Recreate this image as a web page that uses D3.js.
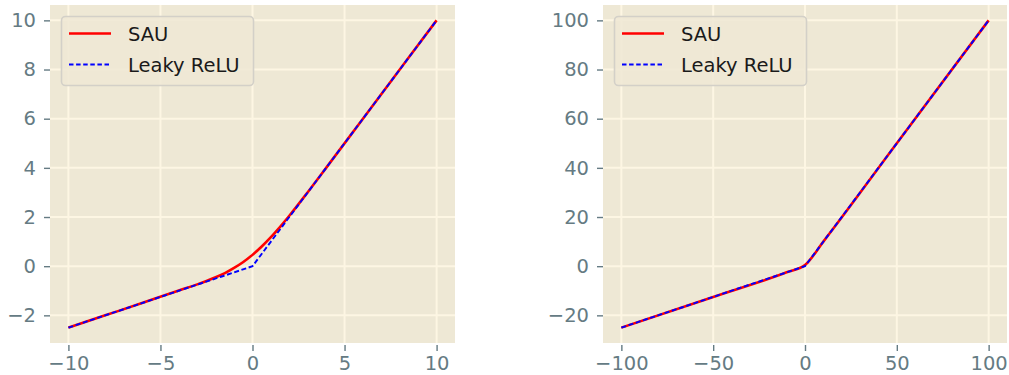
<!DOCTYPE html>
<html>
<head>
<meta charset="utf-8">
<script src="https://cdn.jsdelivr.net/npm/d3@7"></script>
<style>
  html, body { margin: 0; padding: 0; background: #ffffff; }
  svg { display: block; font-family: "DejaVu Sans", sans-serif; }
</style>
</head>
<body>
<svg id="chart" width="1009" height="375"></svg>
<script>
// Leaky ReLU (slope 0.25) sampled on 13 points, small range
const leakyXSmall = [-10, -8.33, -6.67, -5, -3.33, -1.67, 0, 1.67, 3.33, 5, 6.67, 8.33, 10];
const leakyYSmall = [-2.5, -2.08, -1.67, -1.25, -0.83, -0.42, 0, 1.67, 3.33, 5, 6.67, 8.33, 10];
// SAU, small range
const sauXSmall = [-10, -8, -6, -4, -3, -2.5, -2, -1.5, -1, -0.5, 0, 0.5, 1, 1.5, 2, 3, 4, 6, 8, 10];
const sauYSmall = [-2.5, -2.0, -1.5, -0.99, -0.74, -0.6, -0.45, -0.28, -0.07, 0.17, 0.46, 0.8, 1.18, 1.6, 2.05, 3.01, 4, 6, 8, 10];
// Leaky ReLU, large range
const leakyXLarge = [-100, -83.3, -66.7, -50, -33.3, -16.7, 0, 16.7, 33.3, 50, 66.7, 83.3, 100];
const leakyYLarge = [-25, -20.8, -16.7, -12.5, -8.3, -4.2, 0, 16.7, 33.3, 50, 66.7, 83.3, 100];
// SAU, large range
const sauXLarge = [-100, -50, -10, 0, 10, 50, 100];
const sauYLarge = [-25, -12.5, -2.5, 0.46, 10, 50, 100];

const xTicksSmall = [-10, -5, 0, 5, 10];
const yTicksSmall = [-2, 0, 2, 4, 6, 8, 10];
const xTicksLarge = [-100, -50, 0, 50, 100];
const yTicksLarge = [-20, 0, 20, 40, 60, 80, 100];

const seriesNames = ["SAU", "Leaky ReLU"];

const svg = d3.select("#chart");
const tickColor = "#657b83";
const fontSize = 19.5;

function panel(id, left, right, xDomain, yDomain, xTicks, yTicks, sauX, sauY, lx, ly) {
  const top = 5, bottom = 343;
  const x = d3.scaleLinear().domain(xDomain).range([left, right]);
  const y = d3.scaleLinear().domain(yDomain).range([bottom, top]);
  const g = svg.append("g");

  g.append("rect").attr("x", left).attr("y", top)
    .attr("width", right - left).attr("height", bottom - top)
    .attr("fill", "#eee8d5");

  svg.append("clipPath").attr("id", id).append("rect")
    .attr("x", left).attr("y", top).attr("width", right - left).attr("height", bottom - top);

  // grid
  const grid = g.append("g").attr("stroke", "#fdf6e3").attr("stroke-width", 2);
  xTicks.forEach(t => grid.append("line")
    .attr("x1", x(t)).attr("x2", x(t)).attr("y1", top).attr("y2", bottom));
  yTicks.forEach(t => grid.append("line")
    .attr("x1", left).attr("x2", right).attr("y1", y(t)).attr("y2", y(t)));

  // axes
  const xAxis = d3.axisBottom(x).tickValues(xTicks).tickSize(6).tickPadding(5)
    .tickFormat(d => String(d).replace("-", "\u2212"));
  const yAxis = d3.axisLeft(y).tickValues(yTicks).tickSize(6).tickPadding(8)
    .tickFormat(d => String(d).replace("-", "\u2212"));
  const gx = g.append("g").attr("transform", `translate(0,${bottom + 2})`).call(xAxis);
  const gy = g.append("g").attr("transform", `translate(${left},0)`).call(yAxis);
  [gx, gy].forEach(a => {
    a.select(".domain").remove();
    a.selectAll(".tick line").attr("stroke", tickColor).attr("stroke-width", 1.4);
    a.selectAll(".tick text").attr("fill", tickColor)
      .attr("font-size", fontSize).attr("font-family", "DejaVu Sans");
  });

  // curves
  const plot = g.append("g").attr("clip-path", `url(#${id})`);
  const line = d3.line().x(d => x(d[0])).y(d => y(d[1]));
  plot.append("path")
    .datum(d3.zip(sauX, sauY))
    .attr("d", line.curve(d3.curveMonotoneX))
    .attr("fill", "none").attr("stroke", "#ff0000").attr("stroke-width", 2.6);
  plot.append("path")
    .datum(d3.zip(lx, ly))
    .attr("d", d3.line().x(d => x(d[0])).y(d => y(d[1])))
    .attr("fill", "none").attr("stroke", "#0000ff").attr("stroke-width", 1.9)
    .attr("stroke-dasharray", "5,2.6");

  // legend
  const lgx = left + 11, lgy = 16;
  const lg = g.append("g").attr("transform", `translate(${lgx},${lgy})`);
  lg.append("rect").attr("x", 0.5).attr("y", 0.5).attr("width", 192).attr("height", 69)
    .attr("rx", 4).attr("fill", "#eee8d5").attr("fill-opacity", 0.85)
    .attr("stroke", "#d3d0c8").attr("stroke-width", 1.6);
  const rows = [
    { name: seriesNames[0], color: "#ff0000", w: 2.6, dash: null },
    { name: seriesNames[1], color: "#0000ff", w: 1.9, dash: "4.5,2.6" }
  ];
  rows.forEach((r, i) => {
    const cy = 17.5 + i * 31;
    lg.append("line").attr("x1", 8).attr("x2", 50).attr("y1", cy).attr("y2", cy)
      .attr("stroke", r.color).attr("stroke-width", r.w)
      .attr("stroke-dasharray", r.dash);
    lg.append("text").attr("x", 67).attr("y", cy).attr("dy", "0.36em")
      .attr("font-size", fontSize).attr("fill", "#1a1a1a").text(r.name);
  });
}

panel("clipL", 50, 455, [-11, 11], [-3.125, 10.625], xTicksSmall, yTicksSmall,
  sauXSmall, sauYSmall, leakyXSmall, leakyYSmall);
panel("clipR", 603, 1007, [-110, 110], [-31.25, 106.25], xTicksLarge, yTicksLarge,
  sauXLarge, sauYLarge, leakyXLarge, leakyYLarge);
</script>
</body>
</html>
